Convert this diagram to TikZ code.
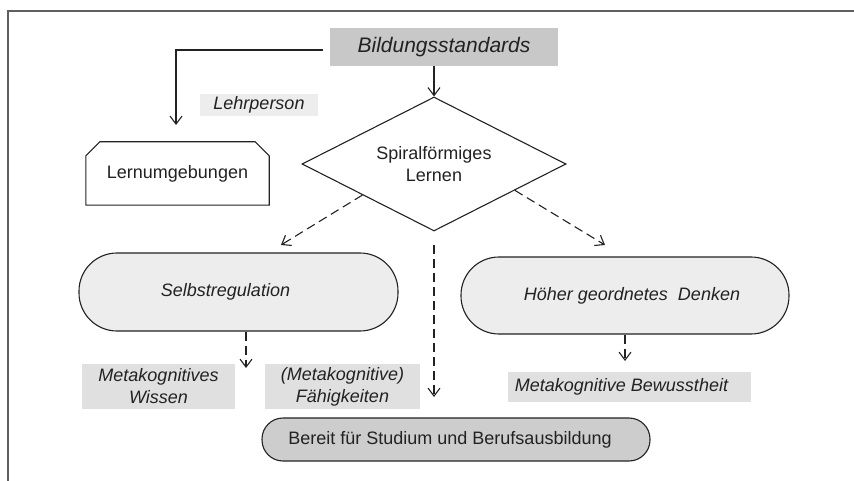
\documentclass[tikz,border=0pt]{standalone}
\usepackage{fontspec}
\setmainfont{Liberation Sans}
\usetikzlibrary{arrows.meta,shapes.geometric,calc}
\definecolor{txt}{HTML}{222222}
\definecolor{lin}{HTML}{222222}
\definecolor{framec}{HTML}{5f5f5f}
\definecolor{darkfill}{HTML}{C8C8C8}
\definecolor{midfill}{HTML}{E0E0E0}
\definecolor{lightfill}{HTML}{EDEDED}
\definecolor{pillfill}{HTML}{CDCDCD}
\begin{document}
\begin{tikzpicture}[x=1pt,y=-1pt,
  base/.style={font=\fontsize{18}{22}\selectfont, text=txt, inner sep=0pt, align=center},
  itbase/.style={base, font=\fontsize{18}{22}\selectfont\itshape},
  tagbox/.style={itbase, fill=midfill},
  stadium/.style={itbase, draw=lin, line width=1.1pt, fill=lightfill, rounded corners=38pt},
  arr/.style={draw=lin, line width=1.1pt, -{Straight Barb[length=8pt,width=12pt]}},
  dsh/.style={arr, dash pattern=on 9pt off 5pt},
  framel/.style={draw=framec, line width=2pt}
]
\useasboundingbox (0,0) rectangle (854,481);
\draw[framel] (8,481) -- (8,11) -- (854,11);

% top box
\node[itbase, fill=darkfill, minimum width=228pt, minimum height=38pt,
      font=\fontsize{21}{24}\selectfont\itshape] (bild) at (444,47) {Bildungsstandards};

% Lehrperson label
\node[itbase, fill=lightfill, minimum width=118pt, minimum height=22pt] (lehr) at (259,105) {Lehrperson};

% Lernumgebungen chamfered box
\node[base, minimum width=183pt, minimum height=63pt] (lern) at (177.5,173.5) {Lernumgebungen};
\draw[lin, line width=1.1pt] (lern.south west) -- ($(lern.north west)+(0,14)$)
  -- ($(lern.north west)+(14,0)$) -- ($(lern.north east)+(-14,0)$)
  -- ($(lern.north east)+(0,14)$) -- (lern.south east) -- cycle;

% diamond
\node[base, diamond, draw=lin, line width=1.1pt, minimum width=264pt, minimum height=134pt,
      aspect=1.97] (diam) at (434,164) {Spiralförmiges\\Lernen};

% stadiums
\node[stadium, minimum width=319pt, minimum height=78pt] (selb) at (238.5,292)
  {Selbstregulation\hspace{26pt}};
\node[stadium, minimum width=328pt, minimum height=77pt] (hoeh) at (625,295.5)
  {\hspace{14pt}Höher geordnetes\ \ Denken};

% tag boxes
\node[tagbox, minimum width=153pt, minimum height=45pt] (wiss) at (158.5,386.5)
  {Metakognitives\\Wissen};
\node[tagbox, minimum width=155pt, minimum height=45pt] (faeh) at (342.5,386.5)
  {(Metakognitive)\\Fähigkeiten};
\node[tagbox, minimum width=243pt, minimum height=30pt] (bew) at (629.5,387)
  {Metakognitive Bewusstheit\hspace{16pt}};

% bottom pill
\node[base, draw=lin, line width=1.1pt, fill=pillfill, rounded corners=21pt,
      minimum width=388pt, minimum height=43pt] (bereit) at (456,439.5)
  {Bereit für Studium und Berufsausbildung\hspace{12pt}};

% free ends of connectors
\coordinate (tipLern) at (176,125);
\coordinate (tipSelb) at (281,245);
\coordinate (tipHoeh) at (605,245);
\coordinate (midTop) at (434,245);
\coordinate (tipMid) at (434,397);
\coordinate (tipWiss) at (246,368);
\coordinate (tipBew) at (625,361);

% connectors
\draw[arr] ($(bild.west)+(-7,3)$) -| (tipLern);
\draw[arr] ($(bild.south)+(-10,0)$) -- (diam.north);
\draw[dsh] ($(diam.west)!0.46!(diam.south)$) -- (tipSelb);
\draw[dsh] ($(diam.east)!0.39!(diam.south)$) -- (tipHoeh);
\draw[dsh] (midTop) -- (tipMid);
\draw[dsh] ($(selb.south)+(7.5,0)$) -- (tipWiss);
\draw[dsh] (hoeh.south) -- (tipBew);
\end{tikzpicture}
\end{document}
